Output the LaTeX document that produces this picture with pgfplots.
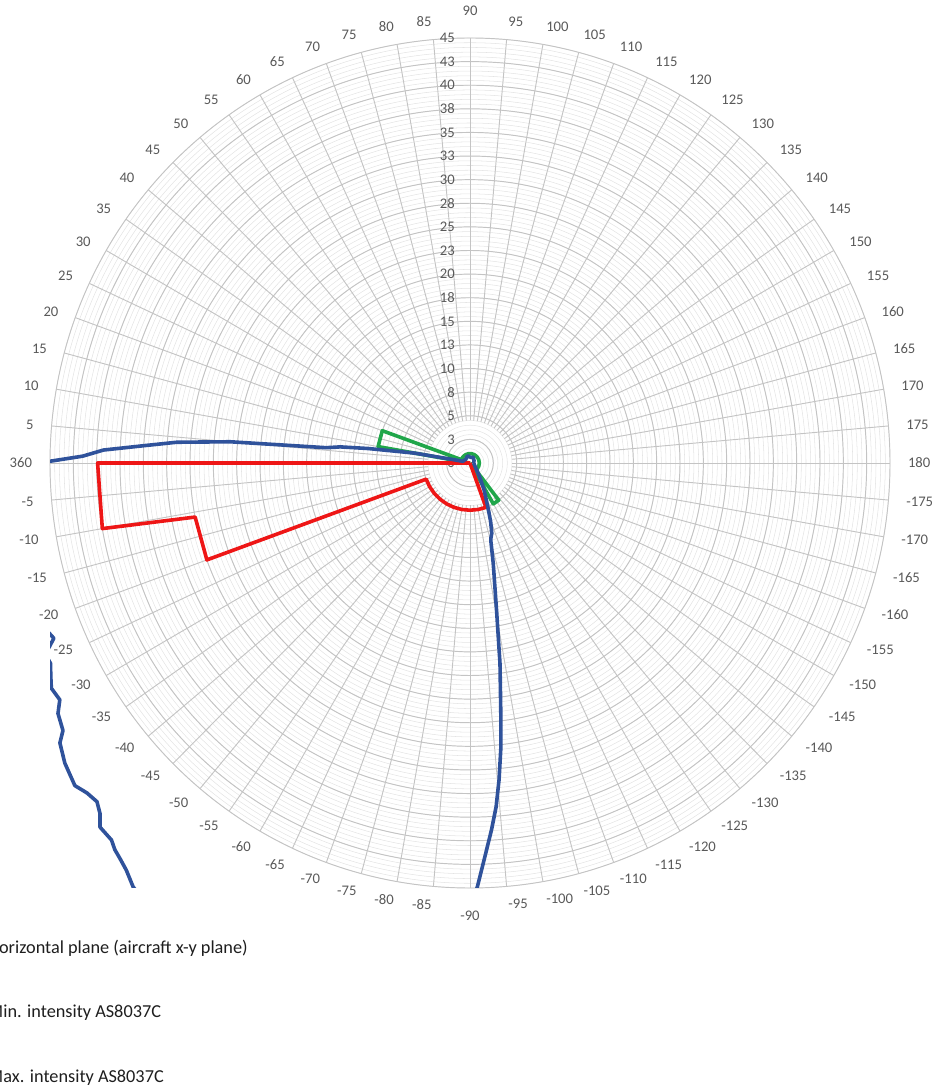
\documentclass[border=0pt]{standalone}
\usepackage{pgfplots}
\pgfplotsset{compat=1.18}
\usepackage{pgfplotstable}
\usepackage{fontspec}
\setmainfont{Carlito}

\definecolor{maxblue}{RGB}{47,82,155}
\definecolor{minred}{RGB}{238,22,22}
\definecolor{hgreen}{RGB}{32,166,74}
\definecolor{gridmaj}{RGB}{196,196,196}
\definecolor{gridmin}{RGB}{228,228,228}
\definecolor{lbl}{RGB}{89,89,89}

% columns: t = direction in degrees (as labelled on the chart), r = value
\pgfplotstableread{
t r
-120 0
10 0
10 10
20 10
21 1
40 1
60 1
80 1
100 1
120 1
140 1
160 1
180 1
-160 1
-140 1
-130 1
-128 5
-120 5
-120 0
}\horizdata

\pgfplotstableread{
t r
-110 0
-110 5
-100 5
-90 5
-80 5
-70 5
-60 5
-50 5
-40 5
-30 5
-20 5
-20 30
-11 30
-10 40
0 39.9
0 0
}\mindata

\pgfplotstableread{
t r
-180 0.4
-150 0.6
-135 1.0
-125 1.8
-118 3.2
-112 5.2
-109.6 6.6
-107.4 7.8
-105.6 8.3
-105.2 8.5
-103.2 10.9
-100.2 16.2
-98.6 21.5
-97.1 26.7
-96.3 30.2
-95.3 33.7
-94.4 36.5
-93.4 38.9
-92.2 41.7
-91.0 44.9
-90 47
-85 52
-75 57
-65 59
-56 58.5
-53 58
-51.2 57.6
-49.5 56.7
-48.1 56.2
-47.1 55.9
-46.1 55.4
-44.2 55.3
-43.1 54.3
-41.9 53.7
-40.4 53.9
-38.9 54.4
-36.2 53.8
-34.0 53.0
-33.0 52.0
-31.0 51.5
-29.7 50.6
-28.0 50.8
-26.5 50.2
-25.3 49.7
-24.0 49.8
-22.6 48.3
-21 48.8
-20 48.6
-15 47.5
-10 47
-5 46.5
0 46.2
1 41.5
2 39.3
3 35
4 31.5
5 25.8
6 15.5
7 14
8 11
10 6
11 2.2
13 0.8
40 0.6
70 0.8
100 0.6
120 0.7
150 0.5
180 0.4
}\maxdata

\begin{document}
\begin{tikzpicture}
\useasboundingbox (-37.5pt,-151.5pt) rectangle (664.5pt,666pt);
\clip (-37.5pt,-151.5pt) rectangle (664.5pt,666pt);

% polar grid and labels, centre of the plot area
\begin{scope}[shift={(315pt,318.75pt)}, x=7pt, y=7.0833pt]
  \foreach \k in {1,...,90}
    \draw[gridmin, line width=0.4pt] (0,0) ellipse [x radius=\k/2, y radius=\k/2];
  \foreach \k in {1,...,18}
    \draw[gridmaj, line width=0.7pt] (0,0) ellipse [x radius=2.5*\k, y radius=2.5*\k];
  \foreach \a in {0,5,...,355}
    \draw[gridmaj, line width=0.7pt] (\a:4.5) -- (\a:45);

  \tikzset{lab/.style={inner sep=0pt, text=lbl, font=\fontsize{11}{13}\selectfont}}
  \foreach \a in {95,100,...,265}{
    \pgfmathtruncatemacro\t{180-\a}
    \ifnum\t=0 \def\t{360}\fi
    \node[lab, anchor=east] at (\a:46.9) {\t};
  }
  \foreach \a in {275,280,...,355,0,5,...,85}{
    \pgfmathtruncatemacro\t{180-\a}
    \node[lab, anchor=west] at (\a:46.9) {\t};
  }
  \node[lab, anchor=south] at (90:47.3) {90};
  \node[lab, anchor=north] at (270:47.4) {-90};

  \foreach \r/\t in {0/0,2.5/3,5/5,7.5/8,10/10,12.5/13,15/15,17.5/18,20/20,
                     22.5/23,25/25,27.5/28,30/30,32.5/33,35/35,37.5/38,40/40,42.5/43,45/45}
    \node[lab, anchor=east] at (-1.6,\r) {\t};
\end{scope}

\begin{axis}[
    at={(0pt,0pt)}, anchor=south west,
    scale only axis, width=630pt, height=637.5pt,
    xmin=-45, xmax=45, ymin=-45, ymax=45,
    hide axis, clip mode=individual,
  ]
  \addplot[hgreen, line width=2.7pt, line join=round, mark=none]
    table[x expr={\thisrow{r}*cos(180-\thisrow{t})}, y expr={\thisrow{r}*sin(180-\thisrow{t})}] {\horizdata};
  \addplot[minred, line width=2.7pt, line join=round, mark=none]
    table[x expr={\thisrow{r}*cos(180-\thisrow{t})}, y expr={\thisrow{r}*sin(180-\thisrow{t})}] {\mindata};
  \addplot[maxblue, line width=2.7pt, line join=round, mark=none]
    table[x expr={\thisrow{r}*cos(180-\thisrow{t})}, y expr={\thisrow{r}*sin(180-\thisrow{t})}] {\maxdata};
\end{axis}

% legend entries (cut off at the left edge of the picture, as in the original)
\begin{scope}[every node/.style={anchor=base west, inner sep=0pt, text={rgb,255:red,30;green,30;blue,30},
    font=\fontsize{13.7}{16}\selectfont}]
  \node at (-46.9pt,-49.1pt) {Horizontal plane (aircraft x-y plane)};
  \node at (-46.9pt,-97.1pt) {Min. intensity AS8037C};
  \node at (-46.9pt,-145.9pt) {Max. intensity AS8037C};
\end{scope}
\end{tikzpicture}
\end{document}
